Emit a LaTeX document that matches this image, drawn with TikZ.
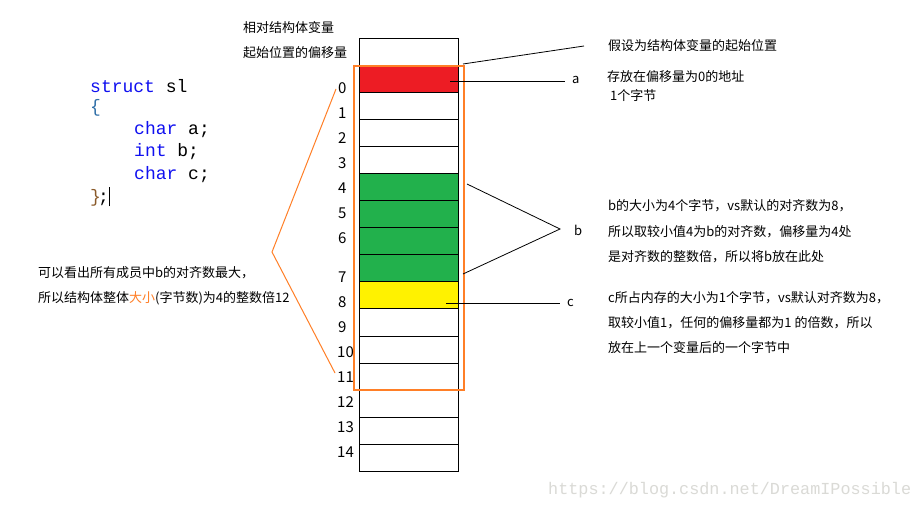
\documentclass[tikz,border=0pt]{standalone}
\usepackage{fontspec}
\setmainfont{Noto Sans CJK SC}
\newfontfamily\codefont{Liberation Mono}
\definecolor{pRed}{HTML}{ED1C24}
\definecolor{pGreen}{HTML}{22B14C}
\definecolor{pYellow}{HTML}{FFF200}
\definecolor{pOrange}{HTML}{FF7F27}
\definecolor{kwBlue}{HTML}{1010F0}
\definecolor{brTeal}{HTML}{2F6FA8}
\definecolor{brBrown}{HTML}{8A5A2A}
\definecolor{wmGray}{HTML}{DADAD6}
\begin{document}
\begin{tikzpicture}[x=1pt,y=-1pt,
  cell/.style={draw=black,line width=1pt,minimum width=99pt,minimum height=27pt,inner sep=0pt},
  txt/.style={anchor=west,inner sep=0pt,font=\fontsize{13}{15}\selectfont},
  num/.style={anchor=west,inner sep=0pt,font=\fontsize{15}{17}\selectfont},
  code/.style={anchor=west,inner sep=0pt,font=\codefont\fontsize{18}{20}\selectfont},
  conn/.style={draw=black,line width=0.8pt},
  oconn/.style={draw=pOrange,line width=1pt}]
\fill[white] (0,0) rectangle (920,510);
\useasboundingbox (0,0) rectangle (920,510);

% memory cells
\node[cell] (mtop) at (408.5,52.5) {};
\foreach \k in {0,...,14}{
  \node[cell] (m\k) at (408.5,79.5+27*\k) {};
}
\node[cell,fill=pRed] at (m0) {};
\node[cell,fill=pGreen] at (m4) {};
\node[cell,fill=pGreen] at (m5) {};
\node[cell,fill=pGreen] at (m6) {};
\node[cell,fill=pGreen] at (m7) {};
\node[cell,fill=pYellow] at (m8) {};

% orange frame
\node[draw=pOrange,line width=1.1pt,minimum width=110pt,minimum height=324pt,inner sep=0pt] (oframe) at (409,228) {};

% offset labels
\node[num] (n0) at (338,88) {0};
\node[num] (n1) at (338,113) {1};
\node[num] (n2) at (338,138) {2};
\node[num] (n3) at (338,163) {3};
\node[num] (n4) at (338,188) {4};
\node[num] (n5) at (338,213) {5};
\node[num] (n6) at (338,238) {6};
\node[num] (n7) at (338,277) {7};
\node[num] (n8) at (338,302) {8};
\node[num] (n9) at (338,327) {9};
\node[num] (n10) at (337,352) {10};
\node[num] (n11) at (337,377) {11};
\node[num] (n12) at (337,402) {12};
\node[num] (n13) at (337,427) {13};
\node[num] (n14) at (337,452) {14};

% header labels
\node[txt] (h1) at (243,28) {相对结构体变量};
\node[txt] (h2) at (243,53) {起始位置的偏移量};

% code
\node[code] (c1) at (90,86) {\textcolor{kwBlue}{struct} sl};
\node[code] (c2) at (90,108) {\textcolor{brTeal}{\{}};
\node[code] (c3) at (134,130) {\textcolor{kwBlue}{char} a;};
\node[code] (c4) at (134,152) {\textcolor{kwBlue}{int} b;};
\node[code] (c5) at (134,175) {\textcolor{kwBlue}{char} c;};
\node[code] (c6) at (90,197) {\textcolor{brBrown}{\}}\hspace{-3pt};\hspace{0pt}\rule[-4pt]{0.9pt}{19pt}};

% left explanation
\node[txt] (l1) at (38,273) {可以看出所有成员中b的对齐数最大，};
\node[txt] (l2) at (38,298) {所以结构体整体\textcolor{pOrange}{大小}(字节数)为4的整数倍12};

% right labels
\node[txt] (la) at (572,80) {a};
\node[txt] (lb) at (574,230) {b};
\node[txt] (lc) at (567,303) {c};

\node[txt] (r1) at (608,46) {假设为结构体变量的起始位置};
\node[txt] (r2) at (607,77) {存放在偏移量为0的地址};
\node[txt] (r3) at (610,96) {1个字节};

\node[txt] (rb1) at (608,206) {b的大小为4个字节，vs默认的对齐数为8，};
\node[txt] (rb2) at (608,232) {所以取较小值4为b的对齐数，偏移量为4处};
\node[txt] (rb3) at (608,257) {是对齐数的整数倍，所以将b放在此处};

\node[txt] (rc1) at (608,298) {c所占内存的大小为1个字节，vs默认对齐数为8，};
\node[txt] (rc2) at (608,323) {取较小值1，任何的偏移量都为1 的倍数，所以};
\node[txt] (rc3) at (608,348) {放在上一个变量后的一个字节中};

% connectors
\coordinate (topS) at (463,64);
\coordinate (topE) at (584,46);
\draw[conn] (topS) -- (topE);

\coordinate (aS) at (450,81);
\coordinate (aE) at (565,81);
\draw[conn] (aS) -- (aE);

\coordinate (bU) at (467,184);
\coordinate (bV) at (560,229);
\coordinate (bL) at (463,274);
\draw[conn] (bU) -- (bV) -- (bL);

\coordinate (cS) at (446,303);
\coordinate (cE) at (560,303);
\draw[conn] (cS) -- (cE);

\coordinate (oT) at (336,89);
\coordinate (oV) at (272,252);
\coordinate (oB) at (335,373);
\draw[oconn] (oT) -- (oV) -- (oB);

% watermark
\node[anchor=west,inner sep=0pt,text=wmGray,font=\codefont\fontsize{16.8}{18}\selectfont] (wm) at (548,490) {https://blog.csdn.net/DreamIPossible};
\end{tikzpicture}
\end{document}
